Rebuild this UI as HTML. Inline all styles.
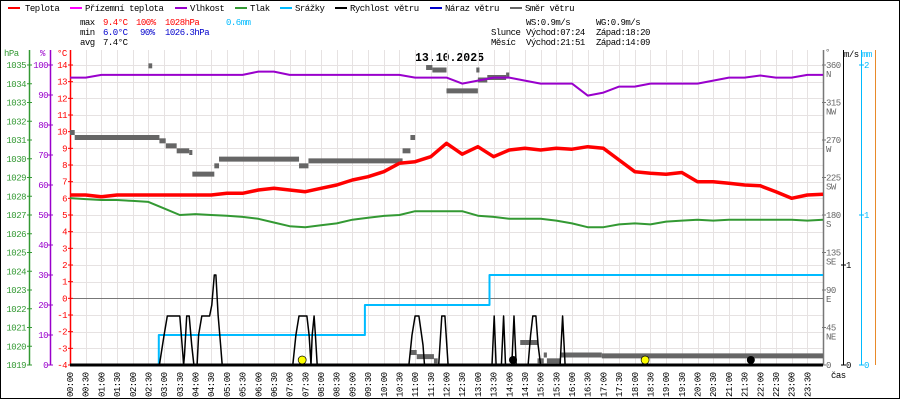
<!DOCTYPE html>
<html><head><meta charset="utf-8"><style>
html,body{margin:0;padding:0;background:#fff;}
svg{display:block;font-family:"Liberation Mono",monospace;}
.t{font-size:9px;letter-spacing:-0.5px;}
</style></head><body>
<svg id="chart" width="900" height="400" viewBox="0 0 900 400" xmlns="http://www.w3.org/2000/svg">
<rect x="0.5" y="0.5" width="899" height="398" fill="#fff" stroke="#000"/>
<g class="t">
<g><rect x="8" y="7" width="12" height="2" fill="#f00"/><text x="25" y="11">Teplota</text></g>
<g><rect x="70" y="7" width="12" height="2" fill="#f0f"/><text x="85" y="11">Přízemní teplota</text></g>
<g><rect x="175" y="7" width="12" height="2" fill="#90c"/><text x="190" y="11">Vlhkost</text></g>
<g><rect x="235" y="7" width="12" height="2" fill="#393"/><text x="250" y="11">Tlak</text></g>
<g><rect x="280" y="7" width="12" height="2" fill="#0bf"/><text x="295" y="11">Srážky</text></g>
<g><rect x="335" y="7" width="12" height="2" fill="#000"/><text x="350" y="11">Rychlost větru</text></g>
<g><rect x="430" y="7" width="12" height="2" fill="#00c"/><text x="445" y="11">Náraz větru</text></g>
<g><rect x="510" y="7" width="12" height="2" fill="#666"/><text x="525" y="11">Směr větru</text></g>
</g>
<g class="t">
<text x="80" y="25">max</text><text x="103" y="25" fill="#f00">9.4°C</text><text x="136" y="25" fill="#f00">100%</text><text x="165" y="25" fill="#f00">1028hPa</text><text x="226" y="25" fill="#0bf">0.6mm</text>
<text x="80" y="35">min</text><text x="103" y="35" fill="#00c">6.0°C</text><text x="140" y="35" fill="#00c">90%</text><text x="165" y="35" fill="#00c">1026.3hPa</text>
<text x="80" y="45">avg</text><text x="103" y="45">7.4°C</text>
<text x="526" y="25">WS:0.9m/s</text><text x="596" y="25">WG:0.9m/s</text>
<text x="491" y="35">Slunce</text><text x="526" y="35">Východ:07:24</text><text x="596" y="35">Západ:18:20</text>
<text x="491" y="45">Měsíc</text><text x="526" y="45">Východ:21:51</text><text x="596" y="45">Západ:14:09</text>
</g>
<text x="415" y="61" font-size="11.5" font-weight="bold">13.10.2025</text>
<g id="grid"></g>
<g id="axes"></g>
<g id="series"></g>
</svg>
<script>
const hours=[0,0.5,1,1.5,2,2.5,3,3.5,4,4.5,5,5.5,6,6.5,7,7.5,8,8.5,9,9.5,10,10.5,11,11.5,12,12.5,13,13.5,14,14.5,15,15.5,16,16.5,17,17.5,18,18.5,19,19.5,20,20.5,21,21.5,22,22.5,23,23.5,24];
const tempC=[6.2,6.2,6.1,6.2,6.2,6.2,6.2,6.2,6.2,6.2,6.3,6.3,6.5,6.6,6.5,6.4,6.6,6.8,7.1,7.3,7.6,8.1,8.2,8.5,9.3,8.65,9.1,8.5,8.9,9.0,8.9,9.0,8.95,9.1,9.0,8.3,7.6,7.5,7.45,7.55,7.0,7.0,6.9,6.8,6.75,6.4,6.0,6.2,6.25];
const humidity=[95.8,95.8,96.7,96.7,96.7,96.7,96.7,96.7,96.7,96.7,96.7,96.7,97.8,97.8,96.7,96.7,96.7,96.7,96.7,96.7,96.7,96.7,95.8,95.8,95.8,93.8,94.8,95.8,95.8,94.8,93.8,93.8,93.8,89.8,90.8,92.8,92.8,93.8,93.8,93.8,93.8,94.8,95.8,95.8,96.5,95.8,95.8,96.7,96.7];
const pressure=[1027.9,1027.85,1027.8,1027.8,1027.75,1027.7,1027.35,1027.0,1027.05,1027.0,1026.96,1026.9,1026.8,1026.6,1026.4,1026.35,1026.45,1026.55,1026.75,1026.85,1026.95,1027.0,1027.2,1027.2,1027.2,1027.2,1026.96,1026.9,1026.8,1026.8,1026.8,1026.7,1026.55,1026.35,1026.35,1026.5,1026.55,1026.5,1026.65,1026.7,1026.75,1026.7,1026.75,1026.75,1026.75,1026.75,1026.75,1026.7,1026.75];
const rainT=[0,2.83,9.4,13.37,24];
const rainMM=[0,0.2,0.4,0.6,0.6];
const windT=[0,2.85,3.0,3.1,3.5,3.6,3.62,3.65,3.72,3.8,3.88,3.95,4.05,4.1,4.2,4.45,4.52,4.6,4.65,4.72,4.8,4.85,7.1,7.2,7.3,7.55,7.62,7.68,7.72,7.78,7.82,7.88,10.8,10.9,11.0,11.12,11.25,11.3,11.75,11.85,11.95,12.05,13.45,13.52,13.58,13.75,13.82,13.88,14.08,14.15,14.22,14.6,14.68,14.75,14.85,14.92,15.0,15.62,15.7,15.78,24];
const windV=[0,0,0.3,0.49,0.49,0.1,0,0.1,0.49,0.49,0.2,0,0,0.3,0.49,0.49,0.6,0.9,0.9,0.5,0.2,0,0,0.3,0.49,0.49,0.3,0,0.3,0.49,0.3,0,0,0.3,0.49,0.49,0.2,0,0,0.49,0.49,0,0,0.49,0,0,0.49,0,0,0.49,0,0,0.3,0.49,0.49,0.2,0,0,0.49,0,0];
const dirStart=[0,0.15,2.5,2.85,3.05,3.4,3.8,3.9,4.6,4.75,7.3,7.6,10.6,10.85,10.85,11.05,11.6,11.35,11.55,12.0,12.95,13.0,13.3,13.9,14.35,14.9,15.1,15.2,15.65,16.95];
const dirEnd=[0.15,2.85,2.62,3.05,3.4,3.8,3.9,4.6,4.75,7.3,7.6,10.6,10.85,11.0,11.05,11.6,11.72,11.55,12.0,13.0,13.05,13.3,13.9,14.0,14.9,15.1,15.2,15.65,16.95,24];
const dirDeg=[279,273,359,269,263,257,255,229,239,247,239,245,257,273,15,10,5,357,354,329,354,342,345,348,27,5,12,5,12,11];
const sunEvents=[7.4,18.33];
const moonEvents=[14.12,21.7];
const hpaTicks=[1019,1020,1021,1022,1023,1024,1025,1026,1027,1028,1029,1030,1031,1032,1033,1034,1035];
const pctTicks=[0,10,20,30,40,50,60,70,80,90,100];
const cTicks=[-4,-3,-2,-1,0,1,2,3,4,5,6,7,8,9,10,11,12,13,14];
const dirTicks=[0,45,90,135,180,225,270,315,360];
const dirNames=["","NE","E","SE","S","SW","W","NW","N"];

const NS="http://www.w3.org/2000/svg";
const L=70,R=823,T=65,B=365;
const X=h=>L+h*(R-L)/24;
const YC=c=>B-(c+4)*(B-T)/18;
const YP=p=>B-(p-1019)*(B-T)/16;
const YH=v=>B-v*(B-T)/100;
const YD=d=>B-d*(B-T)/360;
const YW=w=>B-w*100;
const YM=m=>B-m*150;
function mk(tag,attrs,parent,txt){const e=document.createElementNS(NS,tag);for(const k in attrs)e.setAttribute(k,attrs[k]);if(txt!==undefined)e.textContent=txt;parent.appendChild(e);return e;}
const grid=document.getElementById('grid'),axes=document.getElementById('axes'),ser=document.getElementById('series');
for(let i=0;i<=48;i++){const x=Math.round(X(i/2))+0.5;const l=mk('line',{x1:x,x2:x,y1:T-15,y2:B,stroke:'#e6e2e2'},grid);

}
cTicks.forEach(c=>{const y=Math.round(YC(c))+0.5;const l=mk('line',{x1:L,x2:R,y1:y,y2:y,stroke:c===0?'#777':'#e6e2e2'},grid);

});
// left axes
function axis(x,col,ticks,yf,fmt,name,lx){const g=mk('g',{class:'t',fill:col},axes);


mk('line',{x1:x+0.5,x2:x+0.5,y1:50,y2:B,stroke:col,'stroke-width':1.5},g);
ticks.forEach(v=>{const y=yf(v);mk('line',{x1:x-2,x2:x+3,y1:y,y2:y,stroke:col},g);mk('text',{x:lx,y:y+3,'text-anchor':'end'},g,fmt(v));});}
axis(29,'#393',hpaTicks,YP,v=>v,'hpa-axis',26);
axis(50,'#90c',pctTicks,YH,v=>v,'humidity-axis',48);
axis(70,'#f00',cTicks,YC,v=>v,'temperature-axis',67);
mk('text',{x:4,y:56,class:'t',fill:'#393'},axes,'hPa');
mk('text',{x:40,y:56,class:'t',fill:'#90c'},axes,'%');
mk('text',{x:57,y:56,class:'t',fill:'#f00'},axes,'°C');
// right axes
const gd=mk('g',{class:'t',fill:'#666'},axes);


mk('line',{x1:823.5,x2:823.5,y1:50,y2:B,stroke:'#777','stroke-width':1.5},gd);
dirTicks.forEach((d,i)=>{const y=YD(d);mk('line',{x1:822,x2:826,y1:y,y2:y,stroke:'#777'},gd);mk('text',{x:826,y:y+3},gd,d);mk('text',{x:826,y:y+12},gd,dirNames[i]);});
mk('text',{x:825,y:55,class:'t',fill:'#666'},axes,'°');
const gw=mk('g',{class:'t'},axes);


mk('line',{x1:843.5,x2:843.5,y1:50,y2:B,stroke:'#000'},gw);
[0,1].forEach(v=>{const y=YW(v);mk('line',{x1:841,x2:846,y1:y,y2:y,stroke:'#000'},gw);mk('text',{x:846,y:y+3},gw,v);});
mk('text',{x:844,y:57},gw,'m/s');
const gm=mk('g',{class:'t',fill:'#0bf'},axes);


mk('line',{x1:861.5,x2:861.5,y1:50,y2:B,stroke:'#0bf'},gm);
[0,1,2].forEach(v=>{const y=YM(v);mk('line',{x1:859,x2:864,y1:y,y2:y,stroke:'#0bf'},gm);mk('text',{x:864,y:y+3},gm,v);});
mk('text',{x:862,y:57},gm,'mm');
const ol=mk('line',{x1:875.5,x2:875.5,y1:50,y2:B,stroke:'#e88a2a'},axes);


const ct=mk('text',{x:831,y:378,class:'t'},axes,'čas');


// time labels
for(let i=0;i<48;i++){const x=X(i/2);const hh=String(Math.floor(i/2)).padStart(2,'0')+':'+(i%2?'30':'00');
const t=mk('text',{class:'t',transform:`translate(${x+3},397) rotate(-90)`},axes,hh);

}
// series
function poly(xs,ys,col,w,name){const p=mk('polyline',{points:xs.map((x,i)=>x.toFixed(1)+','+ys[i].toFixed(1)).join(' '),fill:'none',stroke:col,'stroke-width':w,'stroke-linejoin':'round'},ser);

return p;}
// direction
dirDeg.forEach((d,i)=>{const y=YD(d);const l=mk('line',{x1:X(dirStart[i]),x2:X(dirEnd[i]),y1:y,y2:y,stroke:'#666','stroke-width':5},ser);

});
poly(hours.map(X),pressure.map(YP),'#393',2,'pressure-line');
poly(hours.map(X),humidity.map(YH),'#90c',2,'humidity-line');
poly(hours.map(X),tempC.map(YC),'#f00',3.5,'temperature-line');
// rain step
const rx=[],ry=[];rainT.forEach((t,i)=>{if(i>0){rx.push(X(t));ry.push(YM(rainMM[i-1]));}rx.push(X(t));ry.push(YM(rainMM[i]));});
poly(rx,ry,'#0bf',2,'rain-line');
const bl=mk('line',{x1:L,x2:R,y1:B,y2:B,stroke:'#000','stroke-width':3},ser);


poly(windT.map(X),windV.map(YW),'#000',1.5,'wind-speed-line');
sunEvents.forEach(h=>{const c=mk('circle',{cx:X(h),cy:360,r:4,fill:'#ff0',stroke:'#000','stroke-width':0.7},ser);

});
moonEvents.forEach(h=>{const c=mk('circle',{cx:X(h),cy:360,r:4,fill:'#000'},ser);

});
</script>
</body></html>
